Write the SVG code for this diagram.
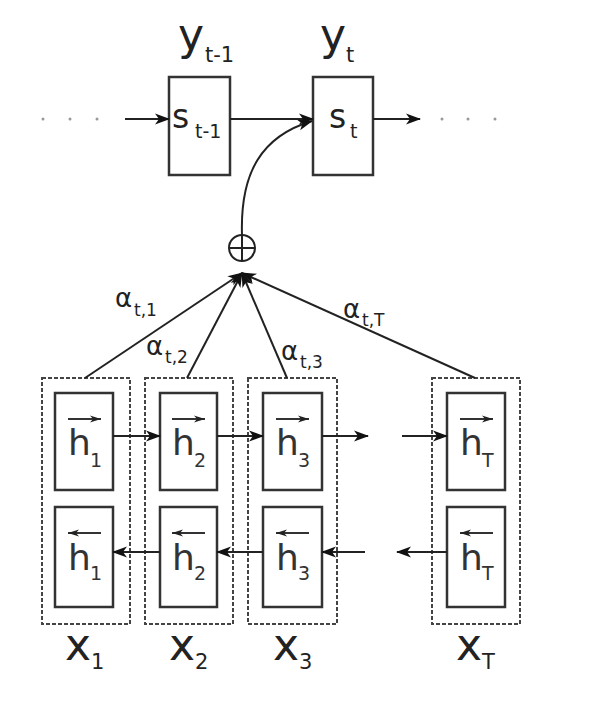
<svg xmlns="http://www.w3.org/2000/svg" width="590" height="714" viewBox="0 0 590 714">
<defs>
<marker id="ah" markerUnits="userSpaceOnUse" markerWidth="16" markerHeight="12" refX="14" refY="6" orient="auto">
<path d="M0,0.5 L15,6 L0,11.5 L4,6 z" fill="#111"/>
</marker>
<marker id="sa" markerUnits="userSpaceOnUse" markerWidth="12" markerHeight="8" refX="11" refY="4" orient="auto">
<path d="M0,0.5 L11,4 L0,7.5 L3,4 z" fill="#222"/>
</marker>
<style>
text{font-family:"DejaVu Sans","Liberation Sans",sans-serif;fill:#222}
.big{font-size:44px}
.bsub{font-size:21px}
.s{font-size:33px}
.ssub{font-size:19px}
.h{font-size:36px;fill:#333}
.hsub{font-size:19px;fill:#333}
.al{font-size:26px}
.asub{font-size:17px}
.box{fill:#fff;stroke:#333;stroke-width:2.5}
.dash{fill:none;stroke:#444;stroke-width:2;stroke-dasharray:4 2}
.ln{stroke:#222;stroke-width:2;fill:none}
.ov{stroke:#333;stroke-width:2.2}
.dot{fill:#999}
</style>
</defs>
<rect width="590" height="714" fill="#fff"/>

<g id="s_prev">
<rect class="box" x="169" y="77" width="61" height="98"/>
<text class="s" x="172" y="128">s</text><text class="ssub" x="195" y="138">t-1</text>
<text class="big" x="178" y="50">y</text><text class="bsub" x="205" y="62">t-1</text>
</g>
<g id="s_t">
<rect class="box" x="313" y="77" width="60" height="98"/>
<text class="s" x="329" y="128">s</text><text class="ssub" x="350" y="138">t</text>
<text class="big" x="320" y="50">y</text><text class="bsub" x="346" y="62">t</text>
</g>

<g id="dots">
<circle class="dot" cx="43" cy="119" r="1.5"/><circle class="dot" cx="70" cy="119" r="1.5"/><circle class="dot" cx="97" cy="119" r="1.5"/>
<circle class="dot" cx="442" cy="119" r="1.5"/><circle class="dot" cx="468" cy="119" r="1.5"/><circle class="dot" cx="495" cy="119" r="1.5"/>
</g>

<g id="sum">
<circle cx="242" cy="248" r="13" fill="#fff" stroke="#222" stroke-width="2"/>
<line x1="229" y1="248" x2="255" y2="248" stroke="#222" stroke-width="2"/>
<line x1="242" y1="235" x2="242" y2="261" stroke="#222" stroke-width="2"/>
</g>

<g id="col1">
<rect class="dash" x="42" y="378" width="88" height="246"/>
<rect class="box" x="55" y="393" width="58" height="97"/>
<rect class="box" x="55" y="507" width="58" height="100"/>
<line class="ov" x1="68" y1="419" x2="101" y2="419" marker-end="url(#sa)"/>
<text class="h" x="68" y="455">h</text><text class="hsub" x="90" y="467">1</text>
<line class="ov" x1="101" y1="533" x2="68" y2="533" marker-end="url(#sa)"/>
<text class="h" x="68" y="570">h</text><text class="hsub" x="90" y="580">1</text>
<text class="big" x="65" y="660">x</text><text class="bsub" x="91" y="669">1</text>
</g>
<g id="col2">
<rect class="dash" x="145" y="378" width="88" height="246"/>
<rect class="box" x="160" y="393" width="57" height="97"/>
<rect class="box" x="160" y="507" width="57" height="100"/>
<line class="ov" x1="172" y1="419" x2="205" y2="419" marker-end="url(#sa)"/>
<text class="h" x="172" y="455">h</text><text class="hsub" x="194" y="467">2</text>
<line class="ov" x1="205" y1="533" x2="172" y2="533" marker-end="url(#sa)"/>
<text class="h" x="172" y="570">h</text><text class="hsub" x="194" y="580">2</text>
<text class="big" x="169" y="660">x</text><text class="bsub" x="195" y="669">2</text>
</g>
<g id="col3">
<rect class="dash" x="248" y="378" width="89" height="246"/>
<rect class="box" x="263" y="393" width="59" height="97"/>
<rect class="box" x="263" y="507" width="59" height="100"/>
<line class="ov" x1="276" y1="419" x2="309" y2="419" marker-end="url(#sa)"/>
<text class="h" x="276" y="455">h</text><text class="hsub" x="298" y="467">3</text>
<line class="ov" x1="309" y1="533" x2="276" y2="533" marker-end="url(#sa)"/>
<text class="h" x="276" y="570">h</text><text class="hsub" x="298" y="580">3</text>
<text class="big" x="273" y="660">x</text><text class="bsub" x="299" y="669">3</text>
</g>
<g id="colT">
<rect class="dash" x="432" y="378" width="88" height="246"/>
<rect class="box" x="447" y="393" width="58" height="97"/>
<rect class="box" x="447" y="507" width="58" height="100"/>
<line class="ov" x1="460" y1="419" x2="493" y2="419" marker-end="url(#sa)"/>
<text class="h" x="460" y="455">h</text><text class="hsub" x="482" y="467">T</text>
<line class="ov" x1="493" y1="533" x2="460" y2="533" marker-end="url(#sa)"/>
<text class="h" x="460" y="570">h</text><text class="hsub" x="482" y="580">T</text>
<text class="big" x="456" y="660">x</text><text class="bsub" x="482" y="669">T</text>
</g>

<g id="connectors">
<line class="ln" x1="125" y1="119" x2="169" y2="119" marker-end="url(#ah)"/>
<line class="ln" x1="230" y1="119" x2="313" y2="119" marker-end="url(#ah)"/>
<line class="ln" x1="373" y1="119" x2="420" y2="119" marker-end="url(#ah)"/>
<path class="ln" d="M242,235 C240,172 262,136 312,121" marker-end="url(#ah)"/>
<line class="ln" x1="85" y1="378" x2="242" y2="273" marker-end="url(#ah)"/>
<line class="ln" x1="187" y1="378" x2="242" y2="273" marker-end="url(#ah)"/>
<line class="ln" x1="287" y1="378" x2="242" y2="273" marker-end="url(#ah)"/>
<line class="ln" x1="475" y1="378" x2="242" y2="273" marker-end="url(#ah)"/>
<line class="ln" x1="113" y1="436" x2="160" y2="436" marker-end="url(#ah)"/>
<line class="ln" x1="217" y1="436" x2="263" y2="436" marker-end="url(#ah)"/>
<line class="ln" x1="322" y1="436" x2="368" y2="436" marker-end="url(#ah)"/>
<line class="ln" x1="402" y1="436" x2="447" y2="436" marker-end="url(#ah)"/>
<line class="ln" x1="160" y1="552" x2="113" y2="552" marker-end="url(#ah)"/>
<line class="ln" x1="263" y1="552" x2="217" y2="552" marker-end="url(#ah)"/>
<line class="ln" x1="365" y1="552" x2="322" y2="552" marker-end="url(#ah)"/>
<line class="ln" x1="447" y1="552" x2="397" y2="552" marker-end="url(#ah)"/>
</g>

<g id="labels">
<text class="al" x="115" y="307">α</text><text class="asub" x="134" y="316">t,1</text>
<text class="al" x="146" y="355">α</text><text class="asub" x="165" y="363">t,2</text>
<text class="al" x="281" y="360">α</text><text class="asub" x="300" y="368">t,3</text>
<text class="al" x="343" y="318">α</text><text class="asub" x="362" y="326">t,T</text>
</g>
</svg>
